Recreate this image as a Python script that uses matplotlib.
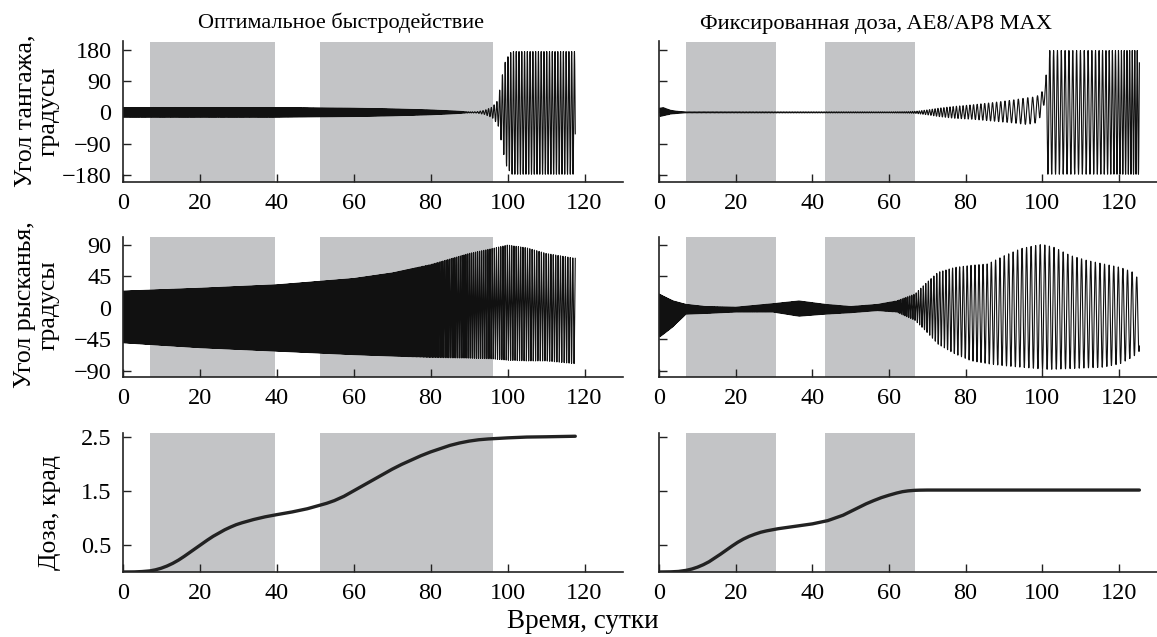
import numpy as np
import matplotlib.pyplot as plt

plt.rcParams['font.family'] = ['Liberation Serif', 'DejaVu Serif']

# ===============================
# Data
# ===============================
day_ticks = [0, 20, 40, 60, 80, 100, 120]
pitch_ticks = [-180, -90, 0, 90, 180]
yaw_ticks = [-90, -45, 0, 45, 90]
dose_ticks = [0.5, 1.5, 2.5]

col_titles = ["Оптимальное быстродействие", "Фиксированная доза, AE8/AP8 MAX"]
row_labels = ["Угол тангажа,\nградусы", "Угол рысканья,\nградусы", "Доза, крад"]
x_label = "Время, сутки"

# shaded intervals, days
shade_opt = [(7.1, 39.7), (51.3, 96.1)]
shade_fix = [(7.0, 30.6), (43.3, 66.7)]

# accumulated dose, krad
dose_opt_t = [0, 3, 5, 7, 8.5, 10, 11.5, 13, 14.5, 16, 17.5, 19, 20.5, 22, 23.5, 25, 26.5,
              28, 29.5, 31, 32.5, 34, 37, 40, 44, 48, 51, 53, 55, 57.5, 60, 62.5, 65, 67.5,
              70, 72.5, 75, 77.5, 80, 82.5, 85, 87.5, 90, 92.5, 95, 97.5, 100, 105, 110,
              117.6]
dose_opt = [0, 0.002, 0.008, 0.02, 0.04, 0.07, 0.11, 0.16, 0.22, 0.29, 0.365, 0.44, 0.515,
            0.59, 0.66, 0.72, 0.78, 0.83, 0.875, 0.91, 0.94, 0.97, 1.02, 1.06, 1.11, 1.17,
            1.23, 1.27, 1.32, 1.40, 1.50, 1.60, 1.70, 1.80, 1.90, 1.99, 2.07, 2.15, 2.22,
            2.28, 2.34, 2.385, 2.42, 2.445, 2.46, 2.47, 2.48, 2.495, 2.50, 2.51]
dose_fix_t = [0, 3, 5, 7, 8.5, 10, 11.5, 13, 14.5, 16, 17.5, 19, 20.5, 22, 23.5, 25, 26.5,
              28, 31, 35, 40, 44, 46, 48, 50, 52, 54, 56, 58, 60, 62, 63.5, 65, 66.7, 68,
              70, 125.4]
dose_fix = [0, 0.003, 0.01, 0.03, 0.055, 0.09, 0.135, 0.19, 0.26, 0.33, 0.405, 0.48, 0.55,
            0.61, 0.66, 0.70, 0.735, 0.76, 0.80, 0.84, 0.89, 0.95, 1.0, 1.05, 1.12, 1.19,
            1.26, 1.32, 1.375, 1.42, 1.46, 1.485, 1.50, 1.51, 1.513, 1.515, 1.515]

# pitch, optimal control: envelope (deg) and oscillation period (days)
pitch_opt_t = [0, 40, 60, 70, 80, 86, 90, 92, 94, 96, 97.5, 98.5, 99.5, 101, 117.6]
pitch_opt_hi = [14, 14, 12, 10, 7, 4, 1.5, 2, 6, 15, 35, 100, 150, 175, 175]
pitch_opt_lo = [-14, -14, -12, -10, -7, -4, -1.5, -2, -6, -15, -35, -90, -150, -178, -178]
pitch_opt_pt = [0, 88, 92, 118]
pitch_opt_per = [0.25, 0.25, 0.72, 0.72]

# yaw, optimal control
yaw_opt_t = [0, 20, 40, 60, 70, 80, 90, 96, 100, 105, 110, 117.6]
yaw_opt_hi = [24, 28, 33, 42, 50, 62, 78, 85, 90, 86, 78, 71]
yaw_opt_lo = [-50, -57, -62, -67, -69, -71, -72, -73, -75, -76, -76, -80]
yaw_opt_pt = [0, 68, 82, 95, 118]
yaw_opt_per = [0.22, 0.25, 0.42, 0.55, 0.65]

# pitch, fixed dose
pitch_fix_t = [0, 1, 3, 5, 7, 20, 40, 60, 65, 67, 70, 73, 77, 82, 87, 92, 96, 98.5,
               100, 100.8, 101.5, 125.4]
pitch_fix_hi = [12, 14, 6, 3, 1.5, 1.5, 1.5, 1.5, 2, 3, 7, 12, 17, 22, 28, 35, 42, 45,
                60, 75, 178, 178]
pitch_fix_lo = [-12, -10, -5, -3, -1.5, -1.5, -1.5, -1.5, -2, -3, -7, -12, -17, -20, -25,
                -30, -35, -30, -5, 40, -178, -178]
pitch_fix_pt = [0, 65, 70, 85, 98, 101, 112, 126]
pitch_fix_per = [0.3, 0.5, 0.7, 1.0, 1.3, 1.0, 1.0, 0.6]

# yaw, fixed dose
yaw_fix_t = [0, 1, 3.6, 7, 12, 20, 29.6, 36.5, 43.5, 50, 57, 62, 66.8, 69.4, 72.8, 77.2,
             81.5, 85.8, 90.2, 94.5, 98.8, 100, 103, 107.4, 111.7, 116, 120.4, 123.8, 125.4]
yaw_fix_hi = [20, 17, 10, 5, 2, 1, 6, 10, 5, 2, 5, 10, 20, 34, 51, 58, 61, 63, 75, 85, 90,
              91, 87, 75, 68, 63, 58, 51, 39]
yaw_fix_lo = [-42, -38, -27, -9, -8, -6, -6, -12, -9, -7, -4, -6, -18, -32, -52, -66, -76,
              -80, -83, -85, -87, -88, -88, -87, -86, -85, -80, -70, -62]
yaw_fix_pt = [0, 60, 66, 72, 80, 90, 100, 126]
yaw_fix_per = [0.25, 0.3, 0.55, 0.75, 1.0, 1.15, 1.2, 1.2]


def oscillation(tk, hi, lo, pt, per, n=60000):
    # carrier between the read envelopes, with the read period
    t = np.linspace(0, tk[-1], n)
    up = np.interp(t, tk, hi)
    dn = np.interp(t, tk, lo)
    p = np.interp(t, pt, per)
    phase = np.concatenate([[0], np.cumsum(np.diff(t) / p[1:])])
    return t, (up + dn) / 2 + (up - dn) / 2 * np.sin(2 * np.pi * phase)


# ===============================
# Layout (pixels of 1157x637)
# ===============================
W, H = 1157, 637
fig = plt.figure(figsize=(W / 100, H / 100), dpi=100)

cols = [(122.7, 623), (659.3, 1157)]
rows = [(41.5, 181.5), (236.7, 377.3), (433, 572)]
ylims = [(-199, 204), (-99.5, 102), (0, 2.57)]
yticks = [pitch_ticks, yaw_ticks, dose_ticks]
gray = "#c3c4c6"

series = [
    [(pitch_opt_t, pitch_opt_hi, pitch_opt_lo, pitch_opt_pt, pitch_opt_per),
     (pitch_fix_t, pitch_fix_hi, pitch_fix_lo, pitch_fix_pt, pitch_fix_per)],
    [(yaw_opt_t, yaw_opt_hi, yaw_opt_lo, yaw_opt_pt, yaw_opt_per),
     (yaw_fix_t, yaw_fix_hi, yaw_fix_lo, yaw_fix_pt, yaw_fix_per)],
]
doses = [(dose_opt_t, dose_opt), (dose_fix_t, dose_fix)]
shades = [shade_opt, shade_fix]

for r, (y0, y1) in enumerate(rows):
    for c, (x0, x1) in enumerate(cols):
        ax = fig.add_axes([x0 / W, 1 - y1 / H, (x1 - x0) / W, (y1 - y0) / H])
        for a, b in shades[c]:
            ax.axvspan(a, b, color=gray, lw=0, zorder=0)
        if r < 2:
            t, y = oscillation(*series[r][c])
            ax.plot(t, y, color="#111111", lw=0.8, zorder=2)
        else:
            ax.plot(doses[c][0], doses[c][1], color="#222222", lw=2.4,
                    solid_capstyle="round", solid_joinstyle="round", zorder=2)
        ax.set_xlim(0, 130)
        ax.set_ylim(*ylims[r])
        ax.set_xticks(day_ticks)
        ax.set_yticks(yticks[r])
        ax.spines[["top", "right"]].set_visible(False)
        for s in ["left", "bottom"]:
            ax.spines[s].set_linewidth(1.2)
            ax.spines[s].set_color("#222222")
        ax.tick_params(axis="x", direction="in", length=6, width=1, pad=8,
                       labelsize=17.5, color="#222222")
        ax.tick_params(axis="y", direction="in", length=6, width=1, pad=8,
                       labelsize=17.5, color="#222222", labelleft=(c == 0))

# titles and labels
fig.text(198 / W, 1 - 23 / H, col_titles[0], ha="left", va="center", fontsize=16)
fig.text(700 / W, 1 - 25 / H, col_titles[1], ha="left", va="center", fontsize=16.2)
for lab, yc, xc in zip(row_labels, [111, 305, 512], [37, 37, 50]):
    fig.text(xc / W, 1 - yc / H, lab, rotation=90, ha="center", va="center",
             fontsize=18.5, multialignment="center", linespacing=1.1)
fig.text(583 / W, 1 - 622 / H, x_label, ha="center", va="center", fontsize=19.5)

fig.savefig("out.png", dpi=100)
